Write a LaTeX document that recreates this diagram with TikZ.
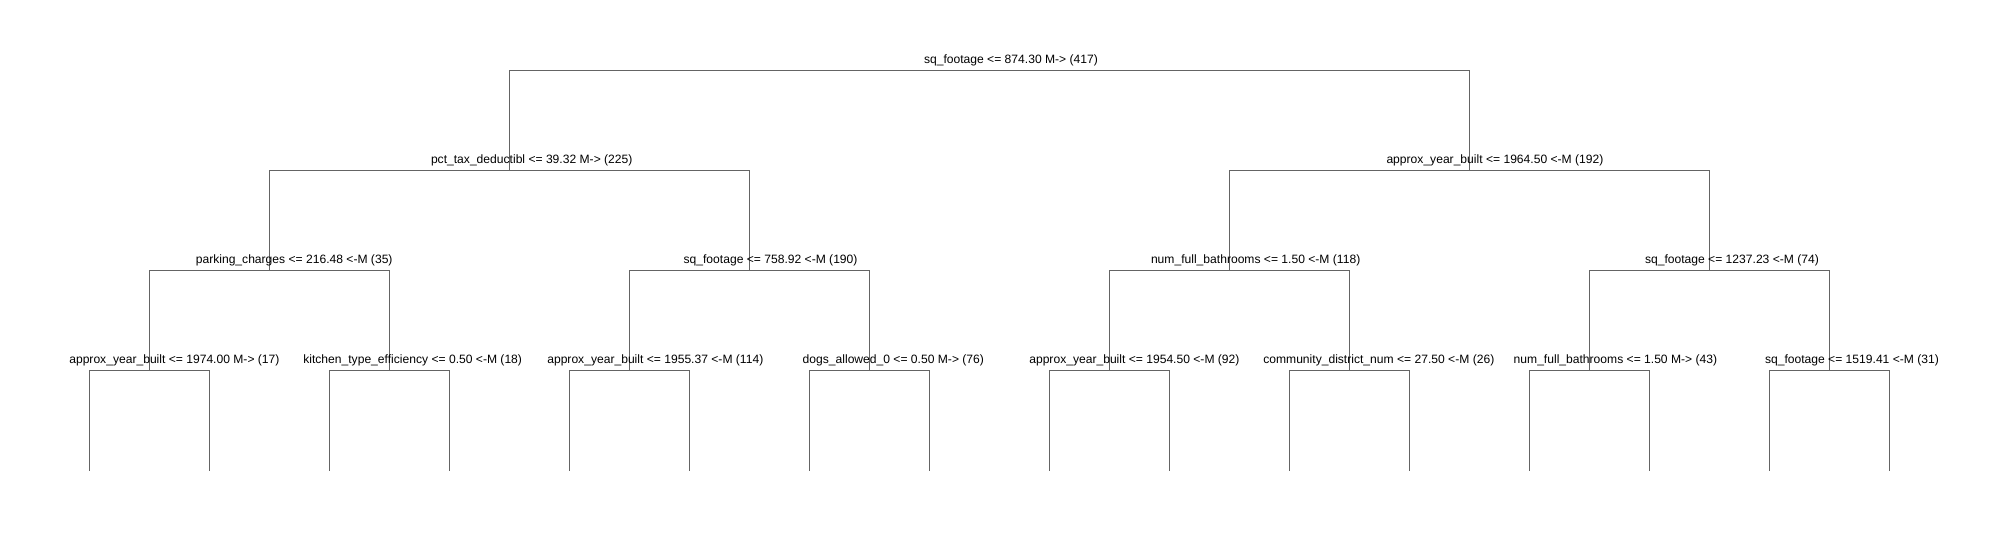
\documentclass[tikz,border=0pt]{standalone}
\usepackage{fontspec}
\setmainfont{Liberation Sans}
\begin{document}
\begin{tikzpicture}[x=1bp,y=-1bp,
  lbl/.style={anchor=base west,inner sep=0pt,outer sep=0pt,font=\fontsize{12.1bp}{14bp}\selectfont,text=black},
  edge/.style={draw={rgb,255:red,100;green,100;blue,100},line width=1bp}]
\useasboundingbox[fill=white] (0,0) rectangle (2007,540);
% tree node positions
\coordinate (r) at (989,70.5);
\coordinate (a) at (509,170.5);
\coordinate (b) at (1469,170.5);
\coordinate (aa) at (269,270.5);
\coordinate (ab) at (749,270.5);
\coordinate (ba) at (1229,270.5);
\coordinate (bb) at (1709,270.5);
\foreach \n/\x in {aaa/149,aab/389,aba/629,abb/869,baa/1109,bab/1349,bba/1589,bbb/1829}{
  \coordinate (\n) at (\x,370.5);
  \coordinate (\n l) at (\x-60,470.5);
  \coordinate (\n r) at (\x+60,470.5);
}
% edges
\foreach \p/\c in {r/a,r/b,a/aa,a/ab,b/ba,b/bb,aa/aaa,aa/aab,ab/aba,ab/abb,ba/baa,ba/bab,bb/bba,bb/bbb}{
  \draw[edge] (\p) -| (\c);
}
\foreach \n in {aaa,aab,aba,abb,baa,bab,bba,bbb}{
  \draw[edge] (\n) -| (\n l);
  \draw[edge] (\n) -| (\n r);
}
% labels
\node[lbl] (tr) at (924,63.5) {sq\_footage <= 874.30 M-> (417)};
\node[lbl] (ta) at (431,163.5) {pct\_tax\_deductibl <= 39.32 M-> (225)};
\node[lbl] (tb) at (1386.5,163.5) {approx\_year\_built <= 1964.50 <-M (192)};
\node[lbl] (taa) at (195.8,263.5) {parking\_charges <= 216.48 <-M (35)};
\node[lbl] (tab) at (683.6,263.5) {sq\_footage <= 758.92 <-M (190)};
\node[lbl] (tba) at (1151,263.5) {num\_full\_bathrooms <= 1.50 <-M (118)};
\node[lbl] (tbb) at (1645,263.5) {sq\_footage <= 1237.23 <-M (74)};
\node[lbl] (taaa) at (69.3,363.5) {approx\_year\_built <= 1974.00 M-> (17)};
\node[lbl] (taab) at (303.3,363.5) {kitchen\_type\_efficiency <= 0.50 <-M (18)};
\node[lbl] (taba) at (547.3,363.5) {approx\_year\_built <= 1955.37 <-M (114)};
\node[lbl] (tabb) at (802.7,363.5) {dogs\_allowed\_0 <= 0.50 M-> (76)};
\node[lbl] (tbaa) at (1029.3,363.5) {approx\_year\_built <= 1954.50 <-M (92)};
\node[lbl] (tbab) at (1263.3,363.5) {community\_district\_num <= 27.50 <-M (26)};
\node[lbl] (tbba) at (1513.7,363.5) {num\_full\_bathrooms <= 1.50 M-> (43)};
\node[lbl] (tbbb) at (1765,363.5) {sq\_footage <= 1519.41 <-M (31)};
\end{tikzpicture}
\end{document}
